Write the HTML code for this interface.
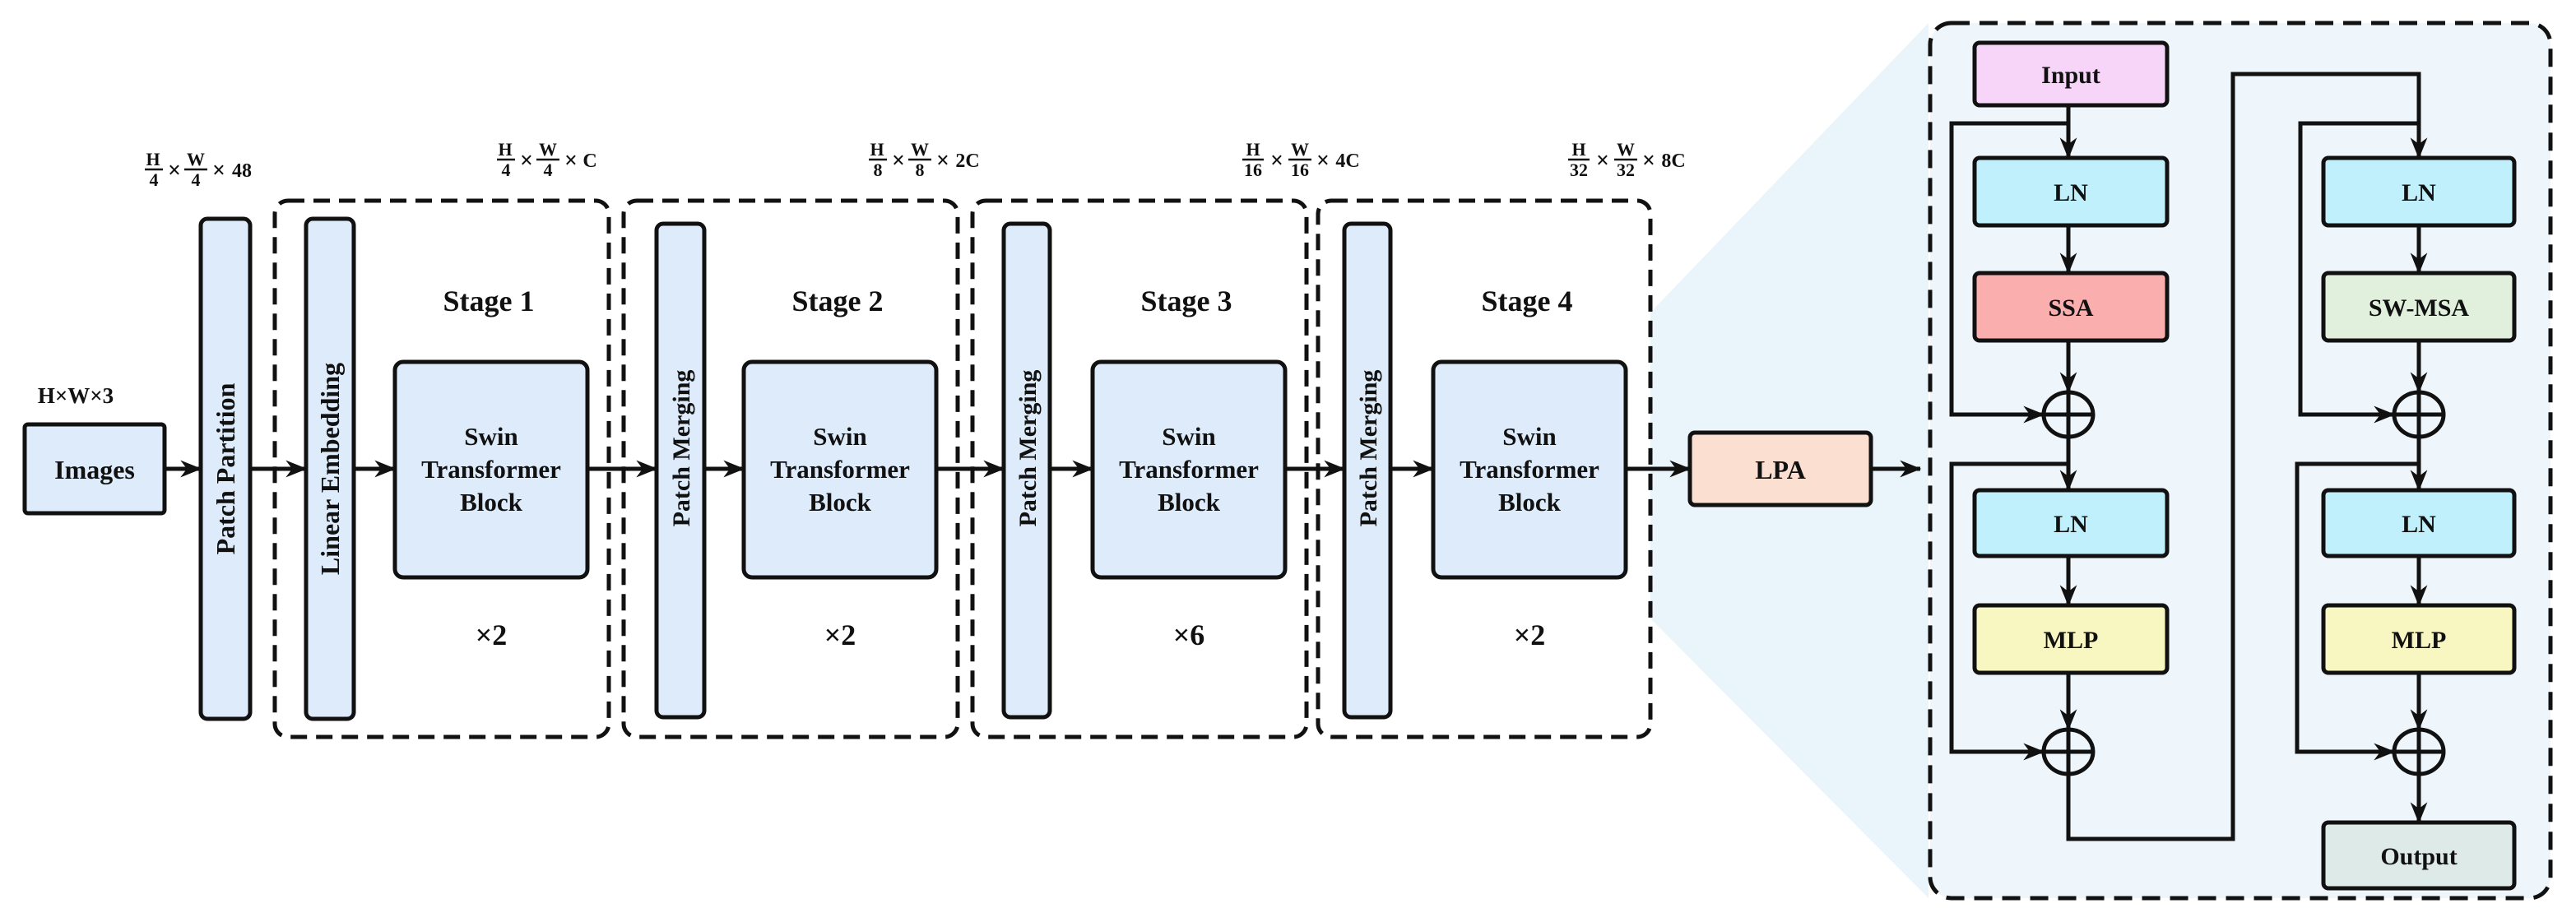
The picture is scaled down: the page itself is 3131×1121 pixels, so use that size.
<!DOCTYPE html>
<html><head><meta charset="utf-8"><style>
html,body{margin:0;padding:0;background:#fff}
svg{display:block}
text{font-family:"Liberation Serif",serif;font-weight:bold;fill:#111}
</style></head><body>
<svg width="3131" height="1121" viewBox="0 0 3131 1121" xmlns="http://www.w3.org/2000/svg">
<defs>
<marker id="ah" viewBox="0 0 20 16" refX="19" refY="8" markerWidth="26" markerHeight="22" orient="auto" markerUnits="userSpaceOnUse">
<path d="M0,0 L20,8 L0,16 L6,8 Z" fill="#111"/>
</marker>
</defs>
<polygon points="2006,380 2344,28 2344,1092 2006,752" fill="#eaf4fb"/>
<rect x="2346" y="28" width="754" height="1064" rx="26" fill="#eef6fc" stroke="#111" stroke-width="5" stroke-dasharray="22 12"/>

<g stroke="#111" stroke-width="5" fill="none" stroke-dasharray="20 11">
<rect x="334" y="244" width="406" height="652" rx="16"/>
<rect x="758" y="244" width="406" height="652" rx="16"/>
<rect x="1182" y="244" width="406" height="652" rx="16"/>
<rect x="1602" y="244" width="404" height="652" rx="16"/>
</g>

<g stroke="#111" stroke-width="5" fill="#ddebfa">
<rect x="30" y="516" width="170" height="108" rx="4"/>
<rect x="244" y="266" width="60" height="608" rx="8"/>
<rect x="372" y="266" width="58" height="608" rx="8"/>
<rect x="480" y="440" width="234" height="262" rx="10"/>
<rect x="798" y="272" width="58" height="600" rx="8"/>
<rect x="904" y="440" width="234" height="262" rx="10"/>
<rect x="1220" y="272" width="56" height="600" rx="8"/>
<rect x="1328" y="440" width="234" height="262" rx="10"/>
<rect x="1634" y="272" width="56" height="600" rx="8"/>
<rect x="1742" y="440" width="234" height="262" rx="10"/>
<rect x="2054" y="526" width="220" height="88" rx="6" fill="#fbe0d2"/>
</g>

<g stroke="#111" stroke-width="5" fill="none" marker-end="url(#ah)">
<line x1="200" y1="570" x2="244" y2="570"/>
<line x1="304" y1="570" x2="372" y2="570"/>
<line x1="430" y1="570" x2="480" y2="570"/>
<line x1="714" y1="570" x2="798" y2="570"/>
<line x1="856" y1="570" x2="904" y2="570"/>
<line x1="1138" y1="570" x2="1220" y2="570"/>
<line x1="1276" y1="570" x2="1328" y2="570"/>
<line x1="1562" y1="570" x2="1634" y2="570"/>
<line x1="1690" y1="570" x2="1742" y2="570"/>
<line x1="1976" y1="570" x2="2054" y2="570"/>
<line x1="2274" y1="570" x2="2334" y2="570"/>
</g>

<text x="115" y="582" font-size="32" text-anchor="middle">Images</text>
<text x="92" y="490" font-size="27" text-anchor="middle">H×W×3</text>
<text transform="translate(285,570) rotate(-90)" font-size="32" text-anchor="middle">Patch Partition</text>
<text transform="translate(412,570) rotate(-90)" font-size="32" text-anchor="middle">Linear Embedding</text>
<text transform="translate(838,545) rotate(-90)" font-size="30" text-anchor="middle">Patch Merging</text>
<text transform="translate(1259,545) rotate(-90)" font-size="30" text-anchor="middle">Patch Merging</text>
<text transform="translate(1673,545) rotate(-90)" font-size="30" text-anchor="middle">Patch Merging</text>

<g font-size="36" text-anchor="middle">
<text x="594" y="378">Stage 1</text>
<text x="1018" y="378">Stage 2</text>
<text x="1442" y="378">Stage 3</text>
<text x="1856" y="378">Stage 4</text>
<text x="597" y="784">×2</text>
<text x="1021" y="784">×2</text>
<text x="1445" y="784">×6</text>
<text x="1859" y="784">×2</text>
</g>
<g font-size="31" text-anchor="middle">
<text x="597" y="541">Swin</text><text x="597" y="581">Transformer</text><text x="597" y="621">Block</text>
<text x="1021" y="541">Swin</text><text x="1021" y="581">Transformer</text><text x="1021" y="621">Block</text>
<text x="1445" y="541">Swin</text><text x="1445" y="581">Transformer</text><text x="1445" y="621">Block</text>
<text x="1859" y="541">Swin</text><text x="1859" y="581">Transformer</text><text x="1859" y="621">Block</text>
</g>
<text x="2164" y="582" font-size="32" text-anchor="middle">LPA</text>

<g font-size="22" text-anchor="middle">
<g transform="translate(176,0)">
<text x="10" y="201">H</text><line x1="0" y1="206" x2="22" y2="206" stroke="#111" stroke-width="2.5"/><text x="11" y="226">4</text>
<text x="36" y="216" font-size="28">×</text>
<text x="62" y="201">W</text><line x1="48" y1="206" x2="76" y2="206" stroke="#111" stroke-width="2.5"/><text x="62" y="226">4</text>
<text x="90" y="216" font-size="28">×</text><text x="118" y="215" font-size="24">48</text>
</g>
<g transform="translate(604,0)">
<text x="10" y="189">H</text><line x1="0" y1="194" x2="22" y2="194" stroke="#111" stroke-width="2.5"/><text x="11" y="214">4</text>
<text x="36" y="204" font-size="28">×</text>
<text x="62" y="189">W</text><line x1="48" y1="194" x2="76" y2="194" stroke="#111" stroke-width="2.5"/><text x="62" y="214">4</text>
<text x="90" y="204" font-size="28">×</text><text x="113" y="203" font-size="24">C</text>
</g>
<g transform="translate(1056,0)">
<text x="10" y="189">H</text><line x1="0" y1="194" x2="22" y2="194" stroke="#111" stroke-width="2.5"/><text x="11" y="214">8</text>
<text x="36" y="204" font-size="28">×</text>
<text x="62" y="189">W</text><line x1="48" y1="194" x2="76" y2="194" stroke="#111" stroke-width="2.5"/><text x="62" y="214">8</text>
<text x="90" y="204" font-size="28">×</text><text x="120" y="203" font-size="24">2C</text>
</g>
<g transform="translate(1510,0)">
<text x="13" y="189">H</text><line x1="0" y1="194" x2="26" y2="194" stroke="#111" stroke-width="2.5"/><text x="13" y="214">16</text>
<text x="42" y="204" font-size="28">×</text>
<text x="70" y="189">W</text><line x1="56" y1="194" x2="84" y2="194" stroke="#111" stroke-width="2.5"/><text x="70" y="214">16</text>
<text x="98" y="204" font-size="28">×</text><text x="128" y="203" font-size="24">4C</text>
</g>
<g transform="translate(1906,0)">
<text x="13" y="189">H</text><line x1="0" y1="194" x2="26" y2="194" stroke="#111" stroke-width="2.5"/><text x="13" y="214">32</text>
<text x="42" y="204" font-size="28">×</text>
<text x="70" y="189">W</text><line x1="56" y1="194" x2="84" y2="194" stroke="#111" stroke-width="2.5"/><text x="70" y="214">32</text>
<text x="98" y="204" font-size="28">×</text><text x="128" y="203" font-size="24">8C</text>
</g>
</g>

<g stroke="#111" stroke-width="5">
<rect x="2400" y="52" width="234" height="76" rx="6" fill="#f7d5f9"/>
<rect x="2400" y="192" width="234" height="82" rx="6" fill="#bff0fb"/>
<rect x="2400" y="332" width="234" height="82" rx="6" fill="#fbaeae"/>
<rect x="2400" y="596" width="234" height="80" rx="6" fill="#bff0fb"/>
<rect x="2400" y="736" width="234" height="82" rx="6" fill="#f8f7c2"/>
<rect x="2824" y="192" width="232" height="82" rx="6" fill="#bff0fb"/>
<rect x="2824" y="332" width="232" height="82" rx="6" fill="#e0f0dc"/>
<rect x="2824" y="596" width="232" height="80" rx="6" fill="#bff0fb"/>
<rect x="2824" y="736" width="232" height="82" rx="6" fill="#f8f7c2"/>
<rect x="2824" y="1000" width="232" height="80" rx="6" fill="#deeae8"/>
</g>
<g stroke="#111" stroke-width="5" fill="none">
<ellipse cx="2514" cy="504" rx="30" ry="27"/><line x1="2484" y1="504" x2="2544" y2="504"/><line x1="2514" y1="477" x2="2514" y2="531"/>
<ellipse cx="2514" cy="914" rx="30" ry="27"/><line x1="2484" y1="914" x2="2544" y2="914"/><line x1="2514" y1="887" x2="2514" y2="941"/>
<ellipse cx="2940" cy="504" rx="30" ry="27"/><line x1="2910" y1="504" x2="2970" y2="504"/><line x1="2940" y1="477" x2="2940" y2="531"/>
<ellipse cx="2940" cy="914" rx="30" ry="27"/><line x1="2910" y1="914" x2="2970" y2="914"/><line x1="2940" y1="887" x2="2940" y2="941"/>
<polyline points="2514,941 2514,1020 2714,1020 2714,90 2940,90 2940,150"/>
</g>
<g stroke="#111" stroke-width="5" fill="none" marker-end="url(#ah)">
<line x1="2514" y1="128" x2="2514" y2="192"/>
<line x1="2514" y1="274" x2="2514" y2="332"/>
<line x1="2514" y1="414" x2="2514" y2="477"/>
<line x1="2514" y1="531" x2="2514" y2="596"/>
<line x1="2514" y1="676" x2="2514" y2="736"/>
<line x1="2514" y1="818" x2="2514" y2="887"/>
<polyline points="2514,150 2372,150 2372,504 2484,504"/>
<polyline points="2514,564 2372,564 2372,914 2484,914"/>
<line x1="2940" y1="140" x2="2940" y2="192"/>
<line x1="2940" y1="274" x2="2940" y2="332"/>
<line x1="2940" y1="414" x2="2940" y2="477"/>
<line x1="2940" y1="531" x2="2940" y2="596"/>
<line x1="2940" y1="676" x2="2940" y2="736"/>
<line x1="2940" y1="818" x2="2940" y2="887"/>
<line x1="2940" y1="941" x2="2940" y2="1000"/>
<polyline points="2940,150 2796,150 2796,504 2910,504"/>
<polyline points="2940,564 2792,564 2792,914 2910,914"/>
</g>
<g font-size="30" text-anchor="middle">
<text x="2517" y="101">Input</text>
<text x="2517" y="244">LN</text>
<text x="2517" y="384">SSA</text>
<text x="2517" y="647">LN</text>
<text x="2517" y="788">MLP</text>
<text x="2940" y="244">LN</text>
<text x="2940" y="384">SW-MSA</text>
<text x="2940" y="647">LN</text>
<text x="2940" y="788">MLP</text>
<text x="2940" y="1051">Output</text>
</g>
</svg>
</body></html>
